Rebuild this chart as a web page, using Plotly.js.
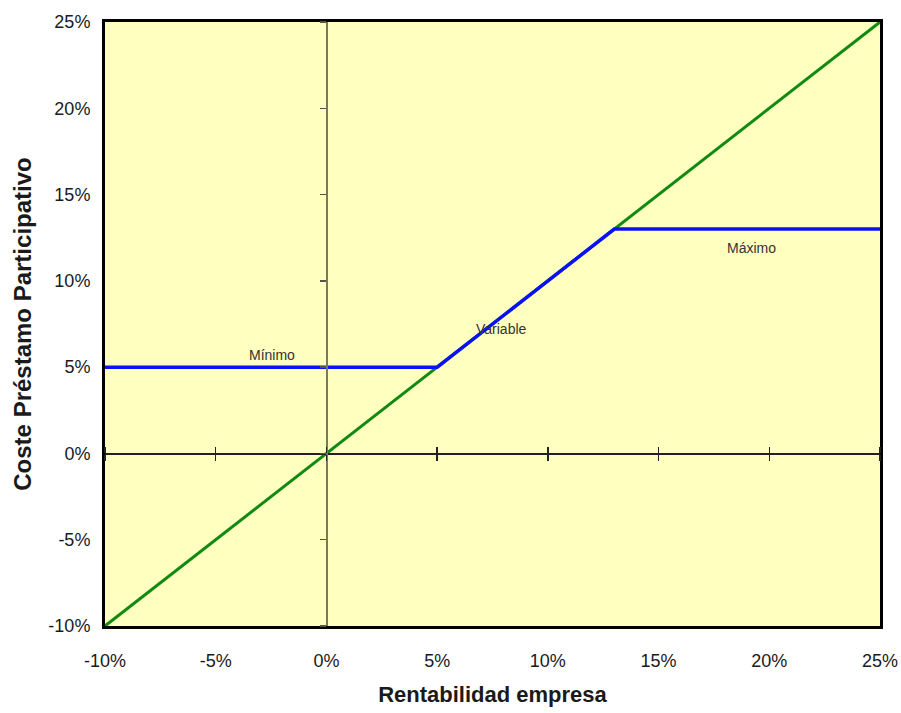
<!DOCTYPE html>
<html>
<head>
<meta charset="utf-8">
<script src="https://cdn.plot.ly/plotly-3.0.1.min.js"></script>
<style>html,body{margin:0;padding:0;background:#fff;}#chart{width:901px;height:713px;}</style>
</head>
<body>
<div id="chart"></div>
<script>
// Data (fractions)
var rentabilidad = [-0.10, 0.25];
var costeDiagonal = [-0.10, 0.25];
var prestamoX = [-0.10, 0.05, 0.13, 0.25];
var prestamoY = [0.05, 0.05, 0.13, 0.13];
var tickVals = [-0.10, -0.05, 0, 0.05, 0.10, 0.15, 0.20, 0.25];
var tickText = ['-10%', '-5%', '0%', '5%', '10%', '15%', '20%', '25%'];
var labelText = ['Mínimo', 'Variable', 'Máximo'];
var labelX = [-0.0245, 0.079, 0.192];
var labelY = [0.057, 0.072, 0.119];

var xr = [-0.10, 0.25], yr = [-0.10, 0.25];
var zeroPosX = (0 - xr[0]) / (xr[1] - xr[0]);
var zeroPosY = (0 - yr[0]) / (yr[1] - yr[0]);
var font = 'Liberation Sans, Arial, sans-serif';

var traces = [
  {x: rentabilidad, y: costeDiagonal, mode: 'lines', line: {color: '#118a11', width: 3}, hoverinfo: 'skip'},
  {x: prestamoX, y: prestamoY, mode: 'lines', line: {color: '#0a12f5', width: 3.5}, hoverinfo: 'skip'}
];

var annotations = labelText.map(function (t, i) {
  return {x: labelX[i], y: labelY[i], xref: 'x', yref: 'y', text: t, showarrow: false,
    font: {family: font, size: 14, color: '#333'}};
});

var layout = {
  width: 901, height: 713,
  margin: {l: 105, r: 21, t: 22, b: 87},
  paper_bgcolor: '#ffffff',
  plot_bgcolor: '#ffffc0',
  showlegend: false,
  xaxis: {
    range: xr, tickvals: tickVals, ticktext: tickText, ticks: '', showgrid: false, zeroline: false,
    showline: true, mirror: true, linecolor: '#000', linewidth: 3,
    ticklabelstandoff: 16,
    tickfont: {family: font, size: 18, color: '#1a1a1a'},
    title: {text: 'Rentabilidad empresa', font: {family: font, size: 22, color: '#1a1a1a', weight: 'bold'}, standoff: 18}
  },
  yaxis: {
    range: yr, tickvals: tickVals, ticktext: tickText, ticks: '', showgrid: false, zeroline: false,
    showline: true, mirror: true, linecolor: '#000', linewidth: 3,
    ticklabelstandoff: 8,
    tickfont: {family: font, size: 18, color: '#1a1a1a'},
    title: {text: 'Coste Préstamo Participativo', font: {family: font, size: 24, color: '#1a1a1a', weight: 'bold'}, standoff: 10}
  },
  xaxis2: {
    overlaying: 'x', anchor: 'free', position: zeroPosY, side: 'bottom', range: xr, tickvals: tickVals,
    showticklabels: false, ticks: 'outside', ticklen: 6, tickwidth: 1.5, tickcolor: '#222',
    showline: true, linecolor: '#222', linewidth: 1.2, showgrid: false, zeroline: false
  },
  xaxis3: {
    overlaying: 'x', anchor: 'free', position: zeroPosY, side: 'top', range: xr, tickvals: tickVals,
    showticklabels: false, ticks: 'outside', ticklen: 6, tickwidth: 1.5, tickcolor: '#222',
    showline: false, showgrid: false, zeroline: false
  },
  yaxis2: {
    overlaying: 'y', anchor: 'free', position: zeroPosX, side: 'left', range: yr, tickvals: tickVals,
    showticklabels: false, ticks: 'outside', ticklen: 6, tickwidth: 1.5, tickcolor: '#555544',
    showline: true, linecolor: '#7a7a5a', linewidth: 1.2, showgrid: false, zeroline: false
  },
  annotations: annotations
};

// dummy traces to activate overlay axes
traces.unshift({x: [null], y: [null], xaxis: 'x3', yaxis: 'y', hoverinfo: 'skip', showlegend: false});
traces.unshift({x: [null], y: [null], xaxis: 'x2', yaxis: 'y2', hoverinfo: 'skip', showlegend: false});

Plotly.newPlot('chart', traces, layout, {displayModeBar: false, staticPlot: true});
</script>
</body>
</html>
